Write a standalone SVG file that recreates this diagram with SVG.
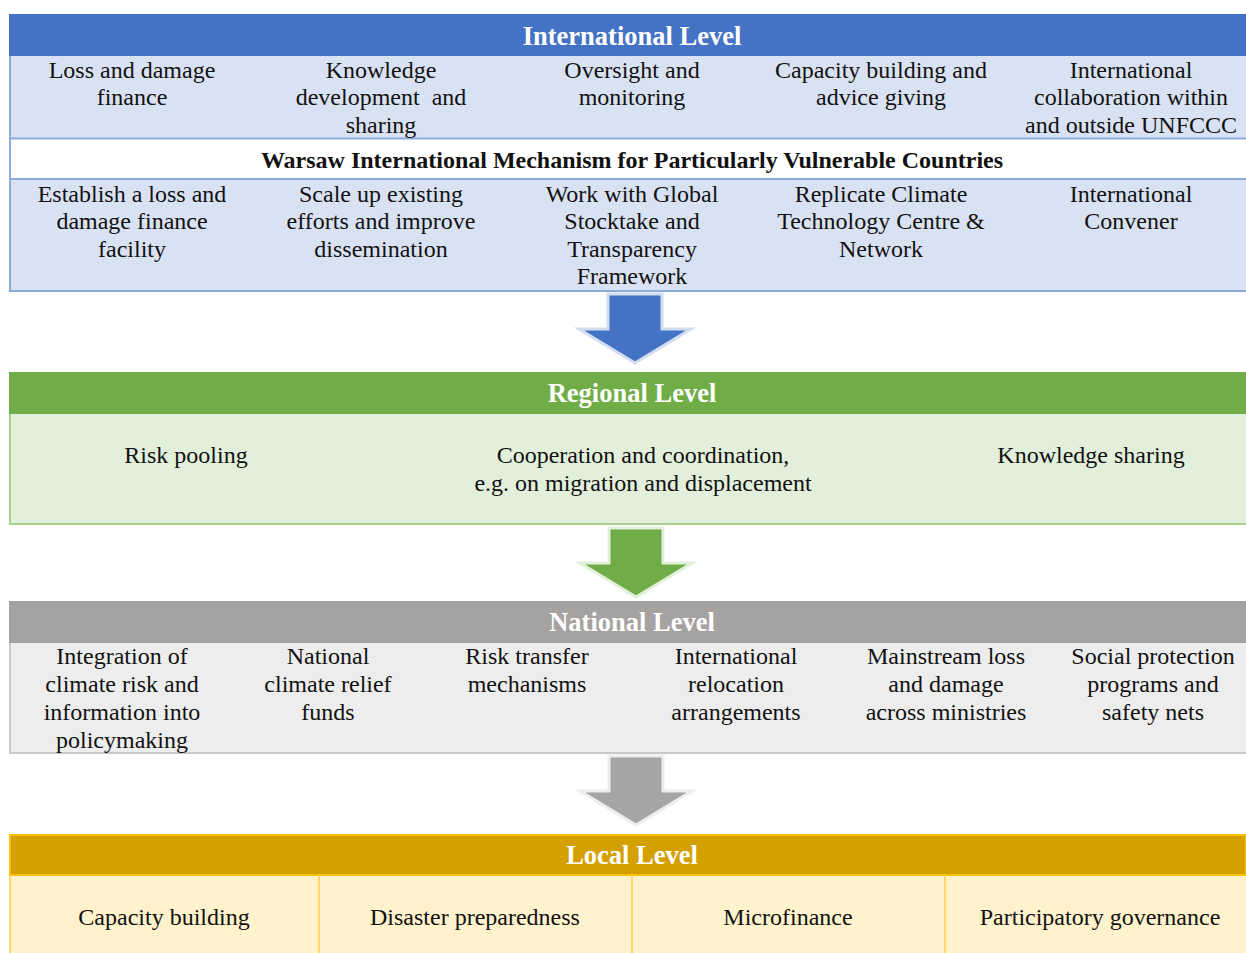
<svg xmlns="http://www.w3.org/2000/svg" width="1246" height="953" viewBox="0 0 1246 953">
  <style>
    text { font-family: "Liberation Serif", "Times New Roman", serif; fill: #111; text-anchor: middle; }
    .t { font-size: 24px; }
    .h { font-size: 26.5px; font-weight: bold; fill: #fff; }
    .w { font-size: 24px; font-weight: bold; }
  </style>
  <defs>
    <path id="down" d="M-27,0 H27 V35 H56 L0,69 L-56,35 H-27 Z"/>
  </defs>
  <rect width="1246" height="953" fill="#fff"/>

  <!-- International level -->
  <g id="international">
    <rect x="9" y="14" width="1237" height="42" fill="#4472C4"/>
    <rect x="9" y="56" width="1237" height="82" fill="#D9E2F3"/>
    <rect x="9" y="179" width="1237" height="112" fill="#D9E2F3"/>
    <g stroke="#8EAADB" stroke-width="2" fill="none">
      <line x1="10" y1="56" x2="10" y2="291"/>
      <line x1="9" y1="138.5" x2="1246" y2="138.5"/>
      <line x1="9" y1="179" x2="1246" y2="179"/>
      <line x1="9" y1="291" x2="1246" y2="291"/>
    </g>
    <text class="h" x="632" y="45">International Level</text>
    <text class="t" x="132" y="78">Loss and damage</text>
    <text class="t" x="132" y="105">finance</text>
    <text class="t" x="381" y="78">Knowledge</text>
    <text class="t" x="381" y="105">development&#160; and</text>
    <text class="t" x="381" y="133">sharing</text>
    <text class="t" x="632" y="78">Oversight and</text>
    <text class="t" x="632" y="105">monitoring</text>
    <text class="t" x="881" y="78">Capacity building and</text>
    <text class="t" x="881" y="105">advice giving</text>
    <text class="t" x="1131" y="78">International</text>
    <text class="t" x="1131" y="105">collaboration within</text>
    <text class="t" x="1131" y="133">and outside UNFCCC</text>
    <text class="w" x="632" y="168">Warsaw International Mechanism for Particularly Vulnerable Countries</text>
    <text class="t" x="132" y="202">Establish a loss and</text>
    <text class="t" x="132" y="229">damage finance</text>
    <text class="t" x="132" y="257">facility</text>
    <text class="t" x="381" y="202">Scale up existing</text>
    <text class="t" x="381" y="229">efforts and improve</text>
    <text class="t" x="381" y="257">dissemination</text>
    <text class="t" x="632" y="202">Work with Global</text>
    <text class="t" x="632" y="229">Stocktake and</text>
    <text class="t" x="632" y="257">Transparency</text>
    <text class="t" x="632" y="284">Framework</text>
    <text class="t" x="881" y="202">Replicate Climate</text>
    <text class="t" x="881" y="229">Technology Centre &amp;</text>
    <text class="t" x="881" y="257">Network</text>
    <text class="t" x="1131" y="202">International</text>
    <text class="t" x="1131" y="229">Convener</text>
  </g>

  <!-- Regional level -->
  <g id="regional">
    <rect x="9" y="372" width="1237" height="42" fill="#70AD47"/>
    <rect x="9" y="414" width="1237" height="110" fill="#E2EFDA"/>
    <g stroke="#A9D18E" stroke-width="2" fill="none">
      <line x1="10" y1="414" x2="10" y2="524"/>
      <line x1="9" y1="524" x2="1246" y2="524"/>
    </g>
    <text class="h" x="632" y="402">Regional Level</text>
    <text class="t" x="186" y="463">Risk pooling</text>
    <text class="t" x="643" y="463">Cooperation and coordination,</text>
    <text class="t" x="643" y="491">e.g. on migration and displacement</text>
    <text class="t" x="1091" y="463">Knowledge sharing</text>
  </g>

  <!-- National level -->
  <g id="national">
    <rect x="9" y="601" width="1237" height="42" fill="#A5A2A2"/>
    <rect x="9" y="643" width="1237" height="110" fill="#EDEDED"/>
    <g stroke="#C9C9C9" stroke-width="2" fill="none">
      <line x1="10" y1="643" x2="10" y2="753"/>
      <line x1="9" y1="753" x2="1246" y2="753"/>
    </g>
    <text class="h" x="632" y="631">National Level</text>
    <text class="t" x="122" y="664">Integration of</text>
    <text class="t" x="122" y="692">climate risk and</text>
    <text class="t" x="122" y="720">information into</text>
    <text class="t" x="122" y="748">policymaking</text>
    <text class="t" x="328" y="664">National</text>
    <text class="t" x="328" y="692">climate relief</text>
    <text class="t" x="328" y="720">funds</text>
    <text class="t" x="527" y="664">Risk transfer</text>
    <text class="t" x="527" y="692">mechanisms</text>
    <text class="t" x="736" y="664">International</text>
    <text class="t" x="736" y="692">relocation</text>
    <text class="t" x="736" y="720">arrangements</text>
    <text class="t" x="946" y="664">Mainstream loss</text>
    <text class="t" x="946" y="692">and damage</text>
    <text class="t" x="946" y="720">across ministries</text>
    <text class="t" x="1153" y="664">Social protection</text>
    <text class="t" x="1153" y="692">programs and</text>
    <text class="t" x="1153" y="720">safety nets</text>
  </g>

  <!-- Local level -->
  <g id="local">
    <rect x="9" y="875" width="1237" height="78" fill="#FFF2CC"/>
    <rect x="10" y="835" width="1236" height="40" fill="#D4A000" stroke="#FFC000" stroke-width="2"/>
    <g stroke="#FFD966" stroke-width="2" fill="none">
      <line x1="10" y1="875" x2="10" y2="953"/>
      <line x1="319" y1="875" x2="319" y2="953"/>
      <line x1="632" y1="875" x2="632" y2="953"/>
      <line x1="945" y1="875" x2="945" y2="953"/>
    </g>
    <text class="h" x="632" y="864">Local Level</text>
    <text class="t" x="164" y="925">Capacity building</text>
    <text class="t" x="475" y="925">Disaster preparedness</text>
    <text class="t" x="788" y="925">Microfinance</text>
    <text class="t" x="1100" y="925">Participatory governance</text>
  </g>

  <!-- Connectors between levels -->
  <g id="connectors" stroke-width="3" stroke-linejoin="miter">
    <use href="#down" transform="translate(635,294)" fill="#4472C4" stroke="#D2DEEF"/>
    <use href="#down" transform="translate(636,528)" fill="#70AD47" stroke="#E2EFDA"/>
    <use href="#down" transform="translate(636,756)" fill="#A5A5A5" stroke="#EDEDED"/>
  </g>
</svg>
